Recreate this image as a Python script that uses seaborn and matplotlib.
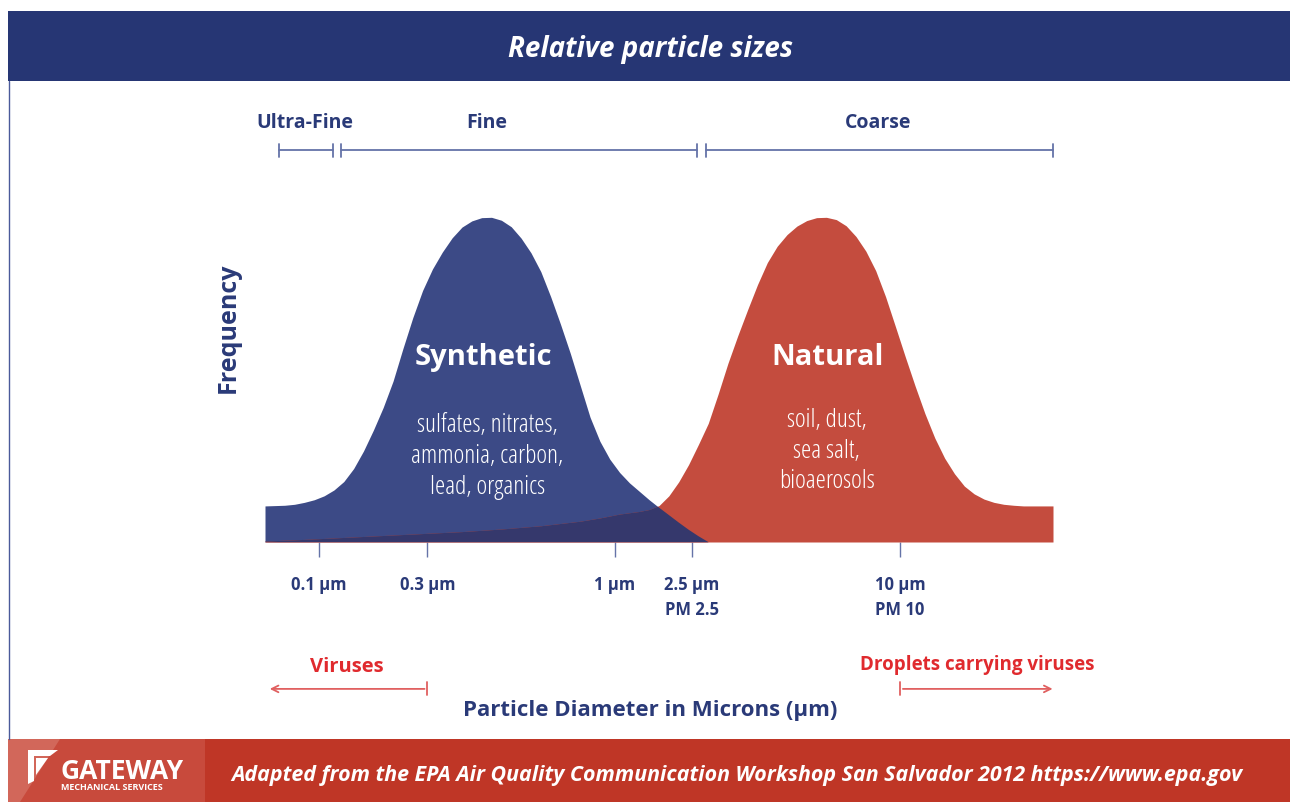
import matplotlib
matplotlib.use("Agg")
import matplotlib.pyplot as plt
import numpy as np
import seaborn as sns
from matplotlib.patches import Rectangle, Polygon

sns.set_theme(style="white")
plt.rcParams['font.family'] = ['Open Sans', 'DejaVu Sans']
COND = dict(family=["Open Sans", "DejaVu Sans"], stretch="condensed")

# ─── DATA ────────────────────────────────────────────────────────────────────
# position along the diameter axis (0 = left edge, 100 = right edge),
# relative frequency (peak = 100)
SYN_POS = [0, 1.25, 2.5, 3.75, 5, 6.25, 7.5, 8.75, 10, 11.25, 12.5, 13.75, 15,
           16.25, 17.5, 18.75, 20, 21.25, 22.5, 23.75, 25, 26.25, 27.5, 28.75,
           30, 31.25, 32.5, 33.75, 35, 36.25, 37.5, 38.75, 40, 41.25, 42.5,
           43.75, 45, 46.25, 47.5, 48.75, 50, 51.25, 52.5, 53.75, 55, 56.25]
SYNTHETIC = [11.1, 11.2, 11.3, 11.6, 12.2, 13.0, 14.2, 16.0, 18.6, 22.6, 28.0,
             34.4, 41.4, 49.5, 59.5, 69.0, 77.4, 84.0, 89.2, 93.6, 96.9, 98.8,
             99.8, 99.9, 99.0, 97.0, 93.5, 89.0, 83.2, 75.5, 67.0, 58.0, 48.2,
             38.4, 31.0, 25.5, 21.4, 18.2, 15.6, 13.0, 10.6, 8.3, 6.0, 3.8, 1.8, 0]

NAT_POS = [0, 5, 10, 15, 20, 25, 30, 35, 40, 42.5, 45, 47.5, 48.75, 50, 51.25,
           52.5, 53.75, 55, 56.25, 57.5, 58.75, 60, 61.25, 62.5, 63.75, 65,
           66.25, 67.5, 68.75, 70, 71.25, 72.5, 73.75, 75, 76.25, 77.5, 78.75,
           80, 81.25, 82.5, 83.75, 85, 86.25, 87.5, 88.75, 90, 91.25, 92.5,
           93.75, 95, 96.25, 100]
NATURAL = [0.3, 0.8, 1.4, 2.0, 2.6, 3.2, 4.0, 5.0, 6.4, 7.4, 8.6, 9.4, 10.0,
           11.2, 14.2, 18.5, 23.8, 30.0, 36.5, 45.5, 55.0, 63.5, 71.5, 79.2,
           86.0, 91.0, 94.6, 97.2, 98.9, 99.8, 99.9, 99.2, 97.3, 94.0, 89.5,
           83.5, 75.5, 66.3, 57.0, 48.0, 39.5, 32.0, 25.8, 21.0, 17.2, 14.8,
           13.2, 12.2, 11.6, 11.3, 11.1, 11.1]

TICK_POS = [6.85, 20.6, 44.4, 54.2, 80.6]
TICK_LABELS = ["0.1 µm", "0.3 µm", "1 µm", "2.5 µm\nPM 2.5", "10 µm\nPM 10"]

SIZE_CLASSES = ["Ultra-Fine", "Fine", "Coarse"]
CLASS_START = [1.8, 9.6, 56.0]
CLASS_END = [8.6, 54.8, 100.0]
CLASS_LABEL_X = [5.1, 28.2, 77.8]

NAVY = "#2a3a78"
BLUE = "#3c4a86"
RED = "#c44c3e"
DARK = "#35386c"
LINE = "#6573a8"
VRED = "#e02a2e"

W, H = 1290, 803
fig = plt.figure(figsize=(W / 100, H / 100), dpi=100)

# background decorations in pixel coordinates
bg = fig.add_axes([0, 0, 1, 1], zorder=0)
bg.set_xlim(0, W)
bg.set_ylim(H, 0)
bg.axis("off")
bg.add_patch(Rectangle((8, 12), W - 8, 70, color="#263674", lw=0))
bg.plot([8.5, 8.5], [82, 740], color="#4a5a9a", lw=1)
bg.add_patch(Rectangle((8, 740), W - 8, H - 740, color="#bf3626", lw=0))
bg.add_patch(Rectangle((8, 740), 197, H - 740, color="#c84a3c", lw=0))
bg.add_patch(Polygon([(8, 740), (60, 740), (20, 803), (8, 803)], color="#d2675a", lw=0))
# logo mark
bg.add_patch(Polygon([(28, 751), (58, 751), (50, 757), (34, 757), (34, 782), (28, 785)],
                     color="white", lw=0))
bg.add_patch(Polygon([(36, 759), (48, 759), (36, 776)], color="white", lw=0))
bg.text(61, 772, "GATEWAY", color="white", fontsize=19, fontweight="bold",
        ha="left", va="center", **COND)
bg.text(61, 788, "MECHANICAL SERVICES", color="white", fontsize=6.5, fontweight="bold",
        ha="left", va="center", **COND)

bg.text(650, 50, "Relative particle sizes", color="white", fontsize=20,
        fontweight="bold", style="italic", ha="center", va="center")
bg.text(737, 776, "Adapted from the EPA Air Quality Communication Workshop San Salvador 2012 https://www.epa.gov",
        color="white", fontsize=15.4, fontweight="bold", style="italic",
        ha="center", va="center")
bg.text(650, 711, "Particle Diameter in Microns (µm)", color=NAVY, fontsize=16,
        fontweight="bold", ha="center", va="center")
bg.text(228, 328, "Frequency", color=NAVY, fontsize=18, fontweight="bold",
        rotation=90, ha="center", va="center", **COND)

# ─── CHART ───────────────────────────────────────────────────────────────────
ax = fig.add_axes([265 / W, (H - 543) / H, 788 / W, 325 / H], zorder=1)
ax.patch.set_alpha(0)
blue = ax.fill_between(SYN_POS, 0, SYNTHETIC, color=BLUE, lw=0)
ax.fill_between(NAT_POS, 0, NATURAL, color=RED, lw=0)
overlap = ax.fill_between(NAT_POS, 0, NATURAL, color=DARK, lw=0)
overlap.set_clip_path(blue.get_paths()[0], transform=ax.transData)
ax.set_xlim(0, 100)
ax.set_ylim(0, 100)
sns.despine(ax=ax, left=True, bottom=True)
ax.set_yticks([])
ax.set_xticks(TICK_POS)
ax.set_xticklabels(TICK_LABELS, fontsize=12, fontweight="bold", color=NAVY,
                   linespacing=1.5, **COND)
ax.tick_params(axis="x", bottom=True, length=10.5, width=1, color=LINE, pad=13)
ax.grid(False)

ax.text(27.7, 57.0, "Synthetic", color="white", fontsize=21, fontweight="bold",
        ha="center", va="center", **COND)
ax.text(28.2, 26.6, "sulfates, nitrates,\nammonia, carbon,\nlead, organics",
        color="white", fontsize=18.5, ha="center", va="center",
        linespacing=1.3, **COND)
ax.text(71.4, 57.0, "Natural", color="white", fontsize=21, fontweight="bold",
        ha="center", va="center", **COND)
ax.text(71.3, 28.3, "soil, dust,\nsea salt,\nbioaerosols",
        color="white", fontsize=18.5, ha="center", va="center",
        linespacing=1.3, **COND)

# size-class brackets
for name, a, b, lx in zip(SIZE_CLASSES, CLASS_START, CLASS_END, CLASS_LABEL_X):
    ax.plot([a, b], [120.6, 120.6], color=LINE, lw=1.3, clip_on=False)
    for e in (a, b):
        ax.plot([e, e], [118.6, 122.6], color=LINE, lw=1.3, clip_on=False)
    ax.text(lx, 129.2, name, color=NAVY, fontsize=14, fontweight="bold",
            ha="center", va="center", clip_on=False, **COND)

# virus arrows
ax.annotate("", xy=(0.25, -45.2), xytext=(20.6, -45.2), annotation_clip=False,
            arrowprops=dict(arrowstyle="->", color="#e06060", lw=1.3))
ax.plot([20.6, 20.6], [-43.2, -47.2], color="#e06060", lw=1.3, clip_on=False)
ax.text(10.4, -38.2, "Viruses", color=VRED, fontsize=14.5, fontweight="bold",
        ha="center", va="center", **COND)
ax.annotate("", xy=(100.3, -45.2), xytext=(80.6, -45.2), annotation_clip=False,
            arrowprops=dict(arrowstyle="->", color="#e06060", lw=1.3))
ax.plot([80.6, 80.6], [-43.2, -47.2], color="#e06060", lw=1.3, clip_on=False)
ax.text(90.4, -37.6, "Droplets carrying viruses", color=VRED, fontsize=13.5,
        fontweight="bold", ha="center", va="center", **COND)

fig.savefig("out.png", dpi=100)
